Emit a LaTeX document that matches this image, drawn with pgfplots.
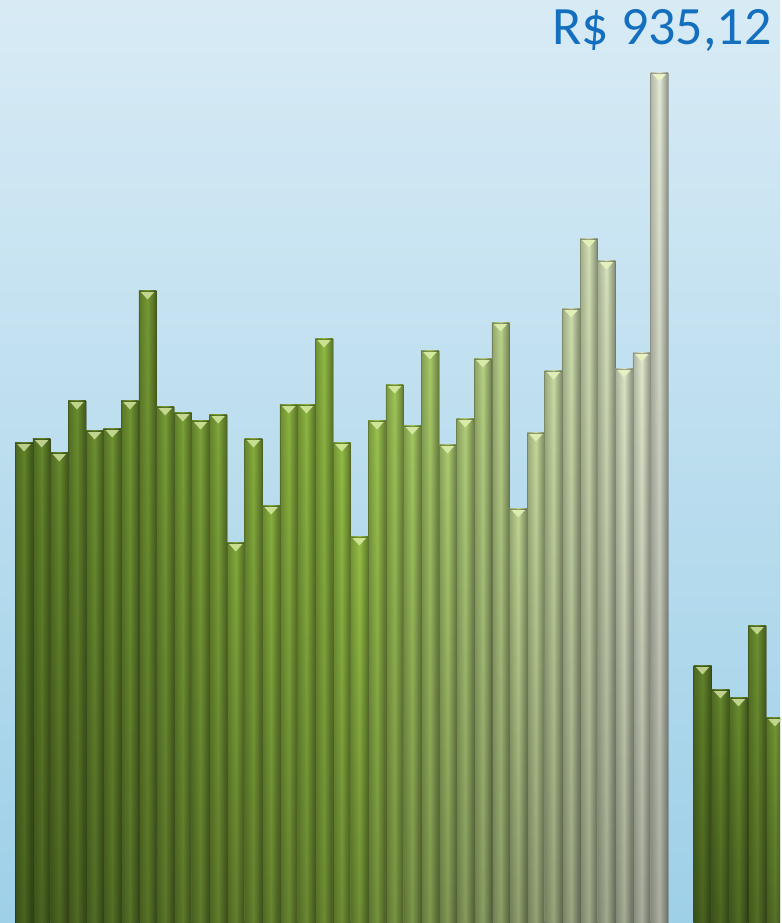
\documentclass[border=0pt]{standalone}
\usepackage{fontspec}
\setmainfont{Carlito}
\usepackage{pgfplots}
\pgfplotsset{compat=1.18}
\usetikzlibrary{fadings}

\definecolor{bgtop}{RGB}{216,235,245}
\definecolor{bgbot}{RGB}{158,208,232}
\definecolor{cA}{RGB}{98,132,42}
\definecolor{cB}{RGB}{150,192,70}
\definecolor{cC}{RGB}{228,234,214}
\definecolor{hl}{RGB}{235,248,190}
\definecolor{lbl}{RGB}{20,112,190}

% flat inverted triangle hanging below the bar top
\pgfdeclareplotmark{vtri}{%
  \pgfpathmoveto{\pgfqpoint{-6.6pt}{-1.2pt}}%
  \pgfpathlineto{\pgfqpoint{6.6pt}{-1.2pt}}%
  \pgfpathlineto{\pgfqpoint{0pt}{-8.5pt}}%
  \pgfpathclose
  \pgfusepathqfill
}

% one bar: [width] x, height, colour
\newcommand\B[4][17.6]{%
  \addplot[ybar, bar shift=0pt, bar width=#1, draw=#4!45!black, draw opacity=0.45, line width=0.5pt,
    left color=#4!78!black, right color=#4!62!black, middle color=#4]
    coordinates {(#2,#3)};
  \addplot[ybar, bar shift=0pt, bar width=#1, draw=none, fill=black, fill opacity=0.25, path fading=north]
    coordinates {(#2,#3)};
  \addplot[only marks, mark=vtri, mark options={fill=#4!35!hl}]
    coordinates {(#2,#3)};
}

\begin{document}
\begin{tikzpicture}
\begin{axis}[
    width=780pt, height=923pt, scale only axis,
    xmin=0, xmax=780, ymin=0, ymax=923,
    axis lines=none, ticks=none,
    axis background/.style={shade, top color=bgtop, bottom color=bgbot, draw=none},
]
\B{24.00}{480}{cB!0!cA}
\B{41.65}{484}{cB!5!cA}
\B{59.30}{470}{cB!11!cA}
\B{76.95}{522}{cB!16!cA}
\B{94.60}{492}{cB!21!cA}
\B{112.25}{494}{cB!26!cA}
\B{129.90}{522}{cB!32!cA}
\B{147.55}{632}{cB!37!cA}
\B{165.20}{516}{cB!42!cA}
\B{182.85}{510}{cB!47!cA}
\B{200.50}{502}{cB!53!cA}
\B{218.15}{508}{cB!58!cA}
\B{235.80}{380}{cB!63!cA}
\B{253.45}{484}{cB!68!cA}
\B{271.10}{417}{cB!74!cA}
\B{288.75}{518}{cB!79!cA}
\B{306.40}{518}{cB!84!cA}
\B{324.05}{584}{cB!89!cA}
\B{341.70}{480}{cB!95!cA}
\B{359.35}{386}{cB}
\B{377.00}{502}{cC!6!cB}
\B{394.65}{538}{cC!12!cB}
\B{412.30}{497}{cC!18!cB}
\B{429.95}{572}{cC!24!cB}
\B{447.60}{478}{cC!29!cB}
\B{465.25}{504}{cC!35!cB}
\B{482.90}{564}{cC!41!cB}
\B{500.55}{600}{cC!47!cB}
\B{518.20}{414}{cC!53!cB}
\B{535.85}{490}{cC!59!cB}
\B{553.50}{552}{cC!65!cB}
\B{571.15}{614}{cC!71!cB}
\B{588.80}{684}{cC!76!cB}
\B{606.45}{662}{cC!82!cB}
\B{624.10}{554}{cC!88!cB}
\B{641.75}{570}{cC!94!cB}
\B{659.40}{850}{cC}
% second group
\B[18]{702.5}{257}{cB!0!cA}
\B[18]{720.5}{233}{cB!8!cA}
\B[18]{738.5}{225}{cB!16!cA}
\B[18]{757.0}{297}{cB!24!cA}
\B[18]{775.0}{205}{cB!32!cA}

\node[anchor=base east, text=lbl, font=\fontsize{54}{60}\selectfont]
  at (axis cs:775,878) {R\$ 935,12};
\end{axis}
\end{tikzpicture}
\end{document}
